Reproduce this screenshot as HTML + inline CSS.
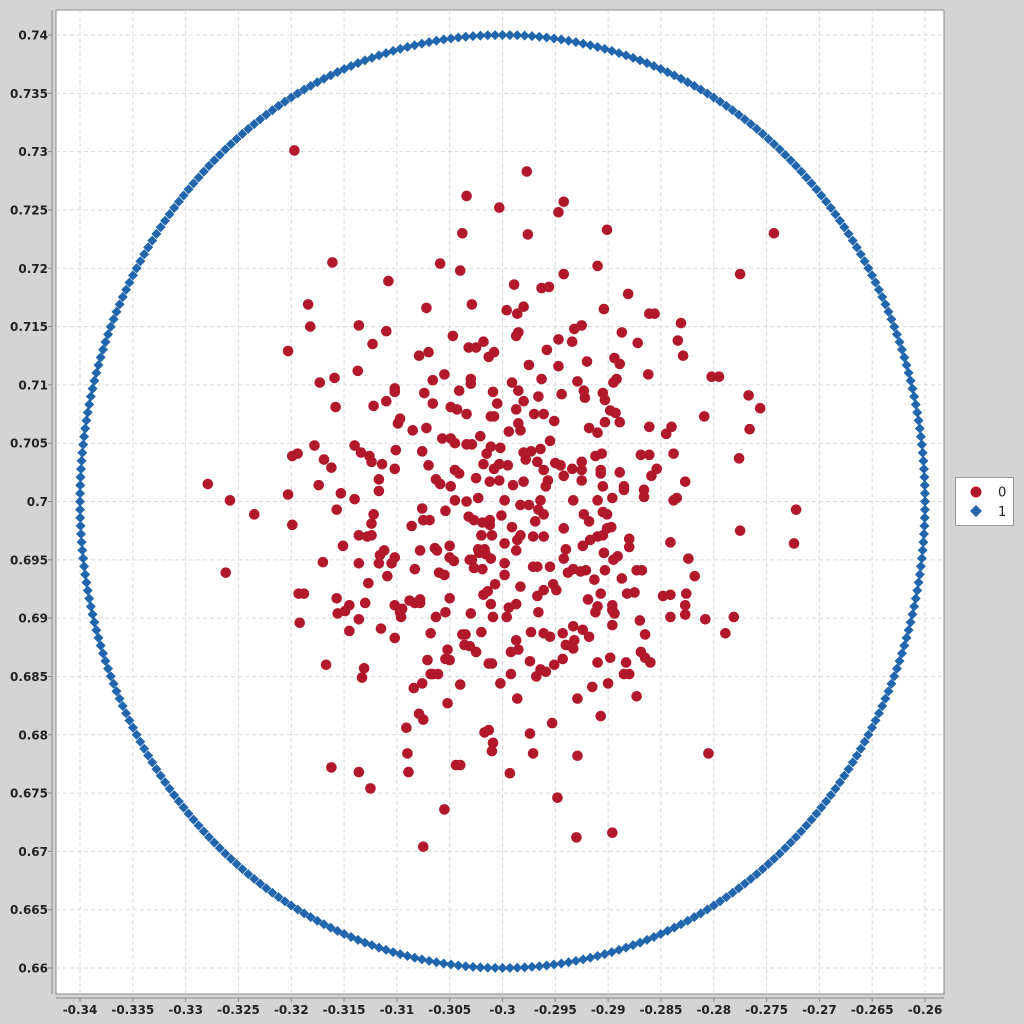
<!DOCTYPE html>
<html><head><meta charset="utf-8">
<style>
html,body{margin:0;padding:0;background:#d4d4d4;}
svg{display:block;font-family:"DejaVu Sans","Liberation Sans",sans-serif;}
</style></head>
<body>
<svg id="chart" width="1024" height="1024"></svg>
<script>
const xTicks=[-0.34,-0.335,-0.33,-0.325,-0.32,-0.315,-0.31,-0.305,-0.3,-0.295,-0.29,-0.285,-0.28,-0.275,-0.27,-0.265,-0.26];
const yTicks=[0.66,0.665,0.67,0.675,0.68,0.685,0.69,0.695,0.7,0.705,0.71,0.715,0.72,0.725,0.73,0.735,0.74];
const xTickLabels=["-0.34","-0.335","-0.33","-0.325","-0.32","-0.315","-0.31","-0.305","-0.3","-0.295","-0.29","-0.285","-0.28","-0.275","-0.27","-0.265","-0.26"];
const yTickLabels=["0.66","0.665","0.67","0.675","0.68","0.685","0.69","0.695","0.7","0.705","0.71","0.715","0.72","0.725","0.73","0.735","0.74"];
const seriesNames=["0","1"];
const red=[[-0.3197,0.7301],[-0.2977,0.7283],[-0.3034,0.7262],[-0.2942,0.7257],[-0.3003,0.7252],[-0.2947,0.7248],[-0.3038,0.7230],[-0.2976,0.7229],[-0.2901,0.7233],[-0.2743,0.7230],[-0.3161,0.7205],[-0.3059,0.7204],[-0.3040,0.7198],[-0.2910,0.7202],[-0.2942,0.7195],[-0.2775,0.7195],[-0.3108,0.7189],[-0.2989,0.7186],[-0.2963,0.7183],[-0.2956,0.7184],[-0.2881,0.7178],[-0.3184,0.7169],[-0.3029,0.7169],[-0.2980,0.7167],[-0.2996,0.7164],[-0.2986,0.7161],[-0.3072,0.7166],[-0.2904,0.7165],[-0.2861,0.7161],[-0.2856,0.7161],[-0.2831,0.7153],[-0.3182,0.7150],[-0.3136,0.7151],[-0.3110,0.7146],[-0.2932,0.7148],[-0.2925,0.7151],[-0.2985,0.7145],[-0.3047,0.7142],[-0.2887,0.7145],[-0.3123,0.7135],[-0.2987,0.7142],[-0.2947,0.7139],[-0.2934,0.7137],[-0.2872,0.7136],[-0.2834,0.7138],[-0.3018,0.7137],[-0.3032,0.7132],[-0.3025,0.7132],[-0.3008,0.7128],[-0.3013,0.7124],[-0.2958,0.7130],[-0.3203,0.7129],[-0.3070,0.7128],[-0.3079,0.7125],[-0.2920,0.7120],[-0.2894,0.7123],[-0.2889,0.7118],[-0.2829,0.7125],[-0.2947,0.7116],[-0.2975,0.7117],[-0.3137,0.7112],[-0.3055,0.7109],[-0.3030,0.7105],[-0.3030,0.7101],[-0.3066,0.7104],[-0.3159,0.7106],[-0.3173,0.7102],[-0.2991,0.7102],[-0.2963,0.7105],[-0.2929,0.7103],[-0.2892,0.7105],[-0.2895,0.7102],[-0.2862,0.7109],[-0.2802,0.7107],[-0.2795,0.7107],[-0.3102,0.7097],[-0.3102,0.7094],[-0.3041,0.7095],[-0.3074,0.7093],[-0.3009,0.7094],[-0.2985,0.7095],[-0.2923,0.7095],[-0.2905,0.7093],[-0.2922,0.7089],[-0.2966,0.7090],[-0.2944,0.7092],[-0.2903,0.7087],[-0.2767,0.7091],[-0.3158,0.7081],[-0.3122,0.7082],[-0.3110,0.7086],[-0.3066,0.7084],[-0.3049,0.7081],[-0.3043,0.7079],[-0.3005,0.7084],[-0.2980,0.7086],[-0.2987,0.7079],[-0.2970,0.7075],[-0.2961,0.7075],[-0.3034,0.7075],[-0.3011,0.7073],[-0.3008,0.7073],[-0.2898,0.7078],[-0.2893,0.7076],[-0.2809,0.7073],[-0.2756,0.7080],[-0.3097,0.7071],[-0.3099,0.7067],[-0.2951,0.7069],[-0.2985,0.7067],[-0.2903,0.7068],[-0.2889,0.7068],[-0.2918,0.7063],[-0.2861,0.7064],[-0.2840,0.7064],[-0.3085,0.7061],[-0.3072,0.7063],[-0.3021,0.7056],[-0.2994,0.7060],[-0.2983,0.7061],[-0.2910,0.7059],[-0.2845,0.7058],[-0.2766,0.7062],[-0.3057,0.7054],[-0.3049,0.7054],[-0.3045,0.7050],[-0.3034,0.7049],[-0.3029,0.7049],[-0.3178,0.7048],[-0.3140,0.7048],[-0.3134,0.7042],[-0.3126,0.7039],[-0.3101,0.7044],[-0.3076,0.7043],[-0.3011,0.7047],[-0.3002,0.7046],[-0.2980,0.7042],[-0.2973,0.7043],[-0.2964,0.7045],[-0.2955,0.7052],[-0.2978,0.7036],[-0.3015,0.7041],[-0.3199,0.7039],[-0.3194,0.7041],[-0.3169,0.7036],[-0.3124,0.7034],[-0.3114,0.7032],[-0.3162,0.7029],[-0.3102,0.7028],[-0.3070,0.7031],[-0.3018,0.7032],[-0.3003,0.7032],[-0.2995,0.7031],[-0.2967,0.7034],[-0.2950,0.7033],[-0.2945,0.7031],[-0.2925,0.7034],[-0.2906,0.7041],[-0.2912,0.7039],[-0.2861,0.7040],[-0.2869,0.7040],[-0.2838,0.7041],[-0.2776,0.7037],[-0.3045,0.7027],[-0.3041,0.7024],[-0.3008,0.7028],[-0.2961,0.7027],[-0.2934,0.7028],[-0.2925,0.7027],[-0.2907,0.7027],[-0.2889,0.7025],[-0.2854,0.7028],[-0.2859,0.7022],[-0.3117,0.7019],[-0.3063,0.7019],[-0.3025,0.7020],[-0.3012,0.7017],[-0.3003,0.7018],[-0.2980,0.7017],[-0.2990,0.7014],[-0.2957,0.7018],[-0.2942,0.7022],[-0.2925,0.7018],[-0.2907,0.7024],[-0.2905,0.7013],[-0.2885,0.7013],[-0.2885,0.7010],[-0.2827,0.7017],[-0.3279,0.7015],[-0.3174,0.7014],[-0.3117,0.7009],[-0.3059,0.7015],[-0.3049,0.7013],[-0.2959,0.7013],[-0.2866,0.7010],[-0.3203,0.7006],[-0.3153,0.7007],[-0.3140,0.7002],[-0.3258,0.7001],[-0.3045,0.7001],[-0.3034,0.7000],[-0.3023,0.7003],[-0.2998,0.7001],[-0.2964,0.7001],[-0.2933,0.7001],[-0.2910,0.7001],[-0.2896,0.7003],[-0.2866,0.7004],[-0.2838,0.7001],[-0.2835,0.7003],[-0.3235,0.6989],[-0.3157,0.6993],[-0.3122,0.6989],[-0.3076,0.6994],[-0.3054,0.6992],[-0.3032,0.6987],[-0.3027,0.6984],[-0.3019,0.6982],[-0.3001,0.6988],[-0.2983,0.6997],[-0.2975,0.6997],[-0.2966,0.6993],[-0.2961,0.6989],[-0.2923,0.6989],[-0.2905,0.6991],[-0.2901,0.6989],[-0.2722,0.6993],[-0.3199,0.6980],[-0.3124,0.6981],[-0.3086,0.6979],[-0.3075,0.6984],[-0.3069,0.6984],[-0.3012,0.6980],[-0.3012,0.6984],[-0.2991,0.6978],[-0.2969,0.6983],[-0.2942,0.6977],[-0.2918,0.6983],[-0.2901,0.6977],[-0.2897,0.6978],[-0.2775,0.6975],[-0.3136,0.6971],[-0.3128,0.6970],[-0.3124,0.6971],[-0.3020,0.6971],[-0.3010,0.6971],[-0.2998,0.6964],[-0.2986,0.6967],[-0.2983,0.6971],[-0.2971,0.6970],[-0.2961,0.6970],[-0.2917,0.6967],[-0.2910,0.6970],[-0.2905,0.6971],[-0.2880,0.6968],[-0.2841,0.6965],[-0.2724,0.6964],[-0.3151,0.6962],[-0.3112,0.6958],[-0.3116,0.6954],[-0.3078,0.6958],[-0.3064,0.6960],[-0.3062,0.6958],[-0.3050,0.6962],[-0.3023,0.6959],[-0.3017,0.6959],[-0.2987,0.6958],[-0.2940,0.6959],[-0.2924,0.6962],[-0.2904,0.6956],[-0.2880,0.6961],[-0.3102,0.6952],[-0.3050,0.6952],[-0.3046,0.6949],[-0.3031,0.6950],[-0.3022,0.6956],[-0.3016,0.6955],[-0.3011,0.6951],[-0.2942,0.6951],[-0.2891,0.6953],[-0.2895,0.6950],[-0.2824,0.6951],[-0.3262,0.6939],[-0.3170,0.6948],[-0.3136,0.6947],[-0.3117,0.6947],[-0.3105,0.6947],[-0.3083,0.6942],[-0.3060,0.6939],[-0.3055,0.6937],[-0.3029,0.6950],[-0.3027,0.6943],[-0.3019,0.6942],[-0.2998,0.6947],[-0.2971,0.6944],[-0.2967,0.6944],[-0.2955,0.6944],[-0.2938,0.6939],[-0.2933,0.6942],[-0.2926,0.6940],[-0.2921,0.6941],[-0.2903,0.6941],[-0.2873,0.6941],[-0.2868,0.6941],[-0.2818,0.6936],[-0.3109,0.6936],[-0.2998,0.6937],[-0.3127,0.6930],[-0.3007,0.6929],[-0.2983,0.6927],[-0.2952,0.6929],[-0.2949,0.6924],[-0.2913,0.6933],[-0.2887,0.6934],[-0.2961,0.6924],[-0.3018,0.6920],[-0.3014,0.6923],[-0.3193,0.6921],[-0.3188,0.6921],[-0.2967,0.6919],[-0.2919,0.6916],[-0.2907,0.6921],[-0.2882,0.6921],[-0.2875,0.6922],[-0.2848,0.6919],[-0.2841,0.6920],[-0.2826,0.6921],[-0.3157,0.6917],[-0.3050,0.6917],[-0.3078,0.6916],[-0.3083,0.6913],[-0.3088,0.6915],[-0.3130,0.6913],[-0.3145,0.6911],[-0.3149,0.6906],[-0.3102,0.6911],[-0.3095,0.6908],[-0.3078,0.6913],[-0.3011,0.6912],[-0.2994,0.6909],[-0.2987,0.6912],[-0.2910,0.6910],[-0.2896,0.6911],[-0.2912,0.6905],[-0.2896,0.6907],[-0.2827,0.6911],[-0.3156,0.6904],[-0.3136,0.6899],[-0.3097,0.6905],[-0.3096,0.6901],[-0.3063,0.6901],[-0.3054,0.6905],[-0.3030,0.6904],[-0.3009,0.6901],[-0.2996,0.6901],[-0.2966,0.6905],[-0.2894,0.6904],[-0.2870,0.6898],[-0.2841,0.6901],[-0.2827,0.6903],[-0.2808,0.6899],[-0.2781,0.6901],[-0.3192,0.6896],[-0.3115,0.6891],[-0.3145,0.6889],[-0.3068,0.6887],[-0.3038,0.6886],[-0.3035,0.6886],[-0.3020,0.6888],[-0.2973,0.6888],[-0.2961,0.6887],[-0.2955,0.6884],[-0.2943,0.6887],[-0.2933,0.6893],[-0.2924,0.6890],[-0.2918,0.6884],[-0.2896,0.6894],[-0.2865,0.6886],[-0.2789,0.6887],[-0.3102,0.6883],[-0.2987,0.6881],[-0.2940,0.6877],[-0.2933,0.6874],[-0.2932,0.6881],[-0.3036,0.6877],[-0.3031,0.6876],[-0.3052,0.6873],[-0.3025,0.6871],[-0.2992,0.6871],[-0.2985,0.6873],[-0.2869,0.6871],[-0.2865,0.6866],[-0.2860,0.6862],[-0.2974,0.6863],[-0.2943,0.6865],[-0.3013,0.6861],[-0.3010,0.6861],[-0.3071,0.6864],[-0.3054,0.6865],[-0.3050,0.6864],[-0.2951,0.6860],[-0.2910,0.6862],[-0.2898,0.6866],[-0.2883,0.6862],[-0.3167,0.6860],[-0.3131,0.6857],[-0.2964,0.6856],[-0.2959,0.6854],[-0.2968,0.6850],[-0.3068,0.6852],[-0.3066,0.6852],[-0.3061,0.6852],[-0.2992,0.6852],[-0.2885,0.6852],[-0.2880,0.6852],[-0.3133,0.6849],[-0.3076,0.6844],[-0.3002,0.6844],[-0.3084,0.6840],[-0.3040,0.6843],[-0.2900,0.6844],[-0.2915,0.6841],[-0.2986,0.6831],[-0.2929,0.6831],[-0.2873,0.6833],[-0.3052,0.6827],[-0.2907,0.6816],[-0.3079,0.6818],[-0.3075,0.6813],[-0.2953,0.6810],[-0.3091,0.6806],[-0.3013,0.6804],[-0.3017,0.6802],[-0.2974,0.6801],[-0.3009,0.6793],[-0.3010,0.6786],[-0.3090,0.6784],[-0.2971,0.6784],[-0.2805,0.6784],[-0.2929,0.6782],[-0.3044,0.6774],[-0.3040,0.6774],[-0.3162,0.6772],[-0.3136,0.6768],[-0.3089,0.6768],[-0.2993,0.6767],[-0.3125,0.6754],[-0.2948,0.6746],[-0.3055,0.6736],[-0.2896,0.6716],[-0.2930,0.6712],[-0.3075,0.6704]];
const ringCenterX=-0.3, ringCenterY=0.70, ringRadius=0.04, ringCount=360;
const blue=[];
for(let i=0;i<ringCount;i++){const a=2*Math.PI*i/ringCount;blue.push([ringCenterX+ringRadius*Math.cos(a),ringCenterY+ringRadius*Math.sin(a)]);}

const NS="http://www.w3.org/2000/svg";
const svg=document.getElementById('chart');
const PL=56,PR=944,PT=10,PB=994;
function sx(v){return 80+(v+0.34)/0.08*845;}
function sy(v){return 968-(v-0.66)/0.08*933;}
function mk(tag,attrs,parent){const e=document.createElementNS(NS,tag);for(const k in attrs)e.setAttribute(k,attrs[k]);(parent||svg).appendChild(e);return e;}

const plot=mk('rect',{x:PL,y:PT,width:PR-PL,height:PB-PT,fill:'#fff',stroke:'#888'});


const grid=mk('g',{});


const xAxis=mk('g',{});


const yAxis=mk('g',{});


mk('line',{x1:PL-4,y1:PT,x2:PL-4,y2:PB,stroke:'#888'},yAxis);
mk('line',{x1:PL,y1:PB+4,x2:PR,y2:PB+4,stroke:'#888'},xAxis);
xTicks.forEach((t,i)=>{
  const x=sx(t);
  mk('line',{x1:x,y1:PT,x2:x,y2:PB,stroke:'#dadada','stroke-dasharray':'4,3'},grid);
  mk('line',{x1:x,y1:PB+4,x2:x,y2:PB+8,stroke:'#888'},xAxis);
  const tx=mk('text',{x:x,y:1014,'text-anchor':'middle','font-size':'12','font-weight':'bold',fill:'#222'},xAxis);
  tx.textContent=xTickLabels[i];
  
  
});
yTicks.forEach((t,i)=>{
  const y=sy(t);
  mk('line',{x1:PL,y1:y,x2:PR,y2:y,stroke:'#dadada','stroke-dasharray':'4,3'},grid);
  mk('line',{x1:PL-8,y1:y,x2:PL-4,y2:y,stroke:'#888'},yAxis);
  const ty=mk('text',{x:48,y:y+4.5,'text-anchor':'end','font-size':'12','font-weight':'bold',fill:'#222'},yAxis);
  ty.textContent=yTickLabels[i];
  
  
});
const g1=mk('g',{fill:'#2166ac'});


blue.forEach(p=>{const x=sx(p[0]),y=sy(p[1]);
  const d=mk('polygon',{points:`${x},${y-5} ${x+5},${y} ${x},${y+5} ${x-5},${y}`},g1);
  
  
});
const g0=mk('g',{fill:'#b2182b'});


red.forEach(p=>{
  const c=mk('circle',{cx:sx(p[0]),cy:sy(p[1]),r:5.3},g0);
  
  
});
const lg=mk('g',{});


mk('rect',{x:955.5,y:477.5,width:58,height:48,fill:'#fff',stroke:'#999'},lg);
mk('circle',{cx:976,cy:492,r:5.5,fill:'#b2182b'},lg);
mk('polygon',{points:'976,505 982,511 976,517 970,511',fill:'#2166ac'},lg);
const l0=mk('text',{x:998,y:496.5,'font-size':'13',fill:'#222'},lg);l0.textContent=seriesNames[0];


const l1=mk('text',{x:998,y:516,'font-size':'13',fill:'#222'},lg);l1.textContent=seriesNames[1];


</script>
</body></html>
